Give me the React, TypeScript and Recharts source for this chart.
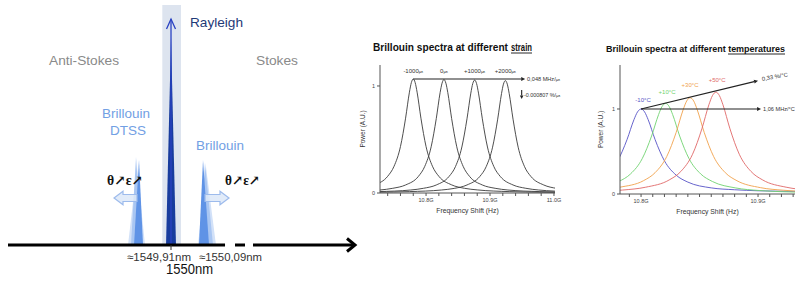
import React from 'react';
import {
  ComposedChart,
  LineChart,
  Line,
  Area,
  XAxis,
  YAxis,
  ReferenceLine,
  ReferenceDot,
  Label,
} from 'recharts';

const SANS = 'Liberation Sans, Arial, Helvetica, sans-serif';
const SERIF = 'Liberation Serif, DejaVu Serif, Times New Roman, serif';

// ---------------- Left panel: backscattered spectrum around 1550 nm ----------------
const wavelengthDomain = [1549.5416, 1550.5174];
const intensityDomain = [-38, 240];

const rayleighBandX = [1549.9755, 1550.0281];
const rayleighBandY = [240, 240];
const rayleighX = [1549.986, 1550.0, 1550.014];
const rayleighY = [0, 207, 0];
const antiStokesPaleX = [1549.8791, 1549.9044, 1549.9269];
const antiStokesPaleY = [0, 78, 0];
const antiStokesLightX = [1549.8875, 1549.9016, 1549.9184];
const antiStokesLightY = [0, 88, 0];
const antiStokesMainX = [1549.896, 1549.91, 1549.9213];
const antiStokesMainY = [0, 85, 0];
const stokesPaleX = [1550.0759, 1550.0984, 1550.1265];
const stokesPaleY = [0, 78, 0];
const stokesLightX = [1550.0815, 1550.0956, 1550.1181];
const stokesLightY = [0, 82, 0];
const stokesMainX = [1550.0787, 1550.09, 1550.1069];
const stokesMainY = [0, 85, 0];

const peakSeries = [
  { key: 'band', x: rayleighBandX, y: rayleighBandY, fill: '#dde4ef' },
  { key: 'asPale', x: antiStokesPaleX, y: antiStokesPaleY, fill: '#d2e1f8' },
  { key: 'sPale', x: stokesPaleX, y: stokesPaleY, fill: '#d2e1f8' },
  { key: 'asLight', x: antiStokesLightX, y: antiStokesLightY, fill: '#a9c6f2' },
  { key: 'sLight', x: stokesLightX, y: stokesLightY, fill: '#a9c6f2' },
  { key: 'asMain', x: antiStokesMainX, y: antiStokesMainY, fill: '#5f93e6' },
  { key: 'sMain', x: stokesMainX, y: stokesMainY, fill: '#5f93e6' },
  { key: 'rayleigh', x: rayleighX, y: rayleighY, fill: '#183c9e' },
];

const spectrumRows: any[] = [];
peakSeries.forEach((s) => s.x.forEach((x, i) => spectrumRows.push({ x, [s.key]: s.y[i] })));
spectrumRows.sort((a, b) => a.x - b.x);

// axis pieces (wavelength) drawn with gaps like the schematic
const axisSegA = [1549.5416, 1550.1519];
const axisSegB = [1550.18, 1550.2081];
const axisSegC = [1550.2306, 1550.5174];

// ---------------- Middle panel: strain ----------------
const strainDomain = [10.728, 11.0016];
const strainPowerDomain = [0, 1.196];
const strainTicks = [10.74, 10.76, 10.78, 10.8, 10.82, 10.84, 10.86, 10.88, 10.9, 10.92, 10.94, 10.96, 10.98, 11.0];
const strainTickLabels: Record<string, string> = { '10.8': '10.8G', '10.9': '10.9G', '11': '11.0G' };

const strainFreqM1000 = [10.7, 10.72, 10.74, 10.75, 10.76, 10.768, 10.774, 10.777, 10.78, 10.783, 10.786, 10.792, 10.8, 10.81, 10.82, 10.84, 10.86, 10.88, 10.93, 10.98, 11.03];
const strainPowM1000 = [0.044, 0.076, 0.156, 0.25, 0.434, 0.699, 0.942, 1.031, 1.065, 1.031, 0.942, 0.699, 0.434, 0.25, 0.156, 0.076, 0.044, 0.029, 0.013, 0.007, 0.005];
const strainFreq0 = [10.708, 10.728, 10.748, 10.768, 10.788, 10.798, 10.808, 10.816, 10.822, 10.825, 10.828, 10.831, 10.834, 10.84, 10.848, 10.858, 10.868, 10.888, 10.908, 10.928, 10.978, 11.028];
const strainPow0 = [0.02, 0.028, 0.044, 0.075, 0.155, 0.249, 0.432, 0.696, 0.938, 1.026, 1.06, 1.026, 0.938, 0.696, 0.432, 0.249, 0.155, 0.075, 0.044, 0.028, 0.013, 0.007];
const strainFreqP1000 = [10.676, 10.726, 10.776, 10.796, 10.816, 10.836, 10.846, 10.856, 10.864, 10.87, 10.873, 10.876, 10.879, 10.882, 10.888, 10.896, 10.906, 10.916, 10.936, 10.956, 10.976, 11.026];
const strainPowP1000 = [0.007, 0.013, 0.028, 0.044, 0.075, 0.155, 0.247, 0.43, 0.693, 0.933, 1.022, 1.055, 1.022, 0.933, 0.693, 0.43, 0.247, 0.155, 0.075, 0.044, 0.028, 0.013];
const strainFreqP2000 = [10.674, 10.724, 10.774, 10.824, 10.844, 10.864, 10.884, 10.894, 10.904, 10.912, 10.918, 10.921, 10.924, 10.927, 10.93, 10.936, 10.944, 10.954, 10.964, 10.984, 11.004, 11.024];
const strainPowP2000 = [0.005, 0.007, 0.013, 0.028, 0.043, 0.075, 0.154, 0.246, 0.428, 0.69, 0.929, 1.017, 1.05, 1.017, 0.929, 0.69, 0.428, 0.246, 0.154, 0.075, 0.043, 0.028];

const strainCurves = [
  { key: 'm1000', label: '-1000', peak: 10.78, f: strainFreqM1000, p: strainPowM1000 },
  { key: 'z0', label: '0', peak: 10.828, f: strainFreq0, p: strainPow0 },
  { key: 'p1000', label: '+1000', peak: 10.876, f: strainFreqP1000, p: strainPowP1000 },
  { key: 'p2000', label: '+2000', peak: 10.924, f: strainFreqP2000, p: strainPowP2000 },
];

// ---------------- Right panel: temperature ----------------
const tempDomain = [10.782, 10.9316];
const tempPowerDomain = [0, 1.5176];
const tempTicks = [10.79, 10.8, 10.81, 10.82, 10.83, 10.84, 10.85, 10.86, 10.87, 10.88, 10.89, 10.9, 10.91, 10.92, 10.93];
const tempTickLabels: Record<string, string> = { '10.8': '10.8G', '10.9': '10.9G' };

const tempFreqM10 = [10.77, 10.78, 10.788, 10.794, 10.797, 10.8, 10.803, 10.806, 10.812, 10.82, 10.83, 10.84, 10.86, 10.88, 10.9, 10.93, 10.95];
const tempPowM10 = [0.222, 0.39, 0.64, 0.877, 0.966, 1.0, 0.966, 0.877, 0.64, 0.39, 0.222, 0.14, 0.072, 0.05, 0.038, 0.031, 0.028];
const tempFreqP10 = [10.761, 10.781, 10.791, 10.801, 10.809, 10.815, 10.818, 10.821, 10.824, 10.827, 10.833, 10.841, 10.851, 10.861, 10.881, 10.901, 10.921, 10.951];
const tempPowP10 = [0.071, 0.147, 0.236, 0.416, 0.682, 0.935, 1.03, 1.066, 1.03, 0.935, 0.682, 0.416, 0.236, 0.147, 0.071, 0.041, 0.027, 0.016];
const tempFreqP30 = [10.762, 10.782, 10.802, 10.812, 10.822, 10.83, 10.836, 10.839, 10.842, 10.845, 10.848, 10.854, 10.862, 10.872, 10.882, 10.902, 10.922, 10.942];
const tempPowP30 = [0.044, 0.08, 0.156, 0.251, 0.442, 0.724, 0.992, 1.094, 1.132, 1.094, 0.992, 0.724, 0.442, 0.251, 0.156, 0.075, 0.044, 0.028];
const tempFreqP50 = [10.764, 10.784, 10.804, 10.824, 10.834, 10.844, 10.852, 10.858, 10.861, 10.864, 10.867, 10.87, 10.876, 10.884, 10.894, 10.904, 10.924, 10.944];
const tempPowP50 = [0.03, 0.046, 0.08, 0.165, 0.265, 0.467, 0.767, 1.05, 1.157, 1.198, 1.157, 1.05, 0.767, 0.467, 0.265, 0.165, 0.08, 0.046];

const tempCurves = [
  { key: 'm10', label: '-10°C', labelX: 10.8017, labelY: 1.082, color: '#5652c6', f: tempFreqM10, p: tempPowM10 },
  { key: 'p10', label: '+10°C', labelX: 10.8222, labelY: 1.176, color: '#6fd36f', f: tempFreqP10, p: tempPowP10 },
  { key: 'p30', label: '+30°C', labelX: 10.8419, labelY: 1.253, color: '#f0a24c', f: tempFreqP30, p: tempPowP30 },
  { key: 'p50', label: '+50°C', labelX: 10.865, labelY: 1.318, color: '#e06868', f: tempFreqP50, p: tempPowP50 },
];

const toPoints = (f: number[], p: number[]) => f.map((x, i) => ({ x, y: p[i] }));

// ---------------- helpers ----------------
type TextOpts = {
  size: number;
  fill: string;
  anchor?: 'start' | 'middle' | 'end';
  weight?: string | number;
  family?: string;
  length?: number;
  rotate?: number;
  baseline?: string;
};

function note(key: string, x: number, y: number, content: React.ReactNode, o: TextOpts) {
  return (
    <ReferenceDot
      key={key}
      x={x}
      y={y}
      r={0}
      ifOverflow="visible"
      shape={(p: any) => (
        <text
          x={p.cx}
          y={p.cy}
          fontSize={o.size}
          fill={o.fill}
          textAnchor={o.anchor ?? 'start'}
          fontWeight={o.weight ?? 'normal'}
          fontFamily={o.family ?? SANS}
          textLength={o.length}
          lengthAdjust={o.length ? 'spacingAndGlyphs' : undefined}
          dominantBaseline={o.baseline as any}
          transform={o.rotate ? `rotate(${o.rotate} ${p.cx} ${p.cy})` : undefined}
        >
          {content}
        </text>
      )}
    />
  );
}

const arrowShape =
  (color: string, width: number, head: number, half: number, open: boolean) => (p: any) => {
    const { x1, y1, x2, y2 } = p;
    const dx = x2 - x1;
    const dy = y2 - y1;
    const len = Math.hypot(dx, dy) || 1;
    const ux = dx / len;
    const uy = dy / len;
    const nx = -uy;
    const ny = ux;
    const bx = x2 - ux * head;
    const by = y2 - uy * head;
    const a = `${bx + nx * half},${by + ny * half}`;
    const b = `${x2},${y2}`;
    const c = `${bx - nx * half},${by - ny * half}`;
    if (open) {
      return (
        <g>
          <line x1={x1} y1={y1} x2={x2} y2={y2} stroke={color} strokeWidth={width} />
          <polyline points={`${a} ${b} ${c}`} fill="none" stroke={color} strokeWidth={width} strokeLinejoin="miter" />
        </g>
      );
    }
    return (
      <g>
        <line x1={x1} y1={y1} x2={bx} y2={by} stroke={color} strokeWidth={width} />
        <polygon points={`${a} ${b} ${c}`} fill={color} />
      </g>
    );
  };

const plainLine = (color: string, width: number) => (p: any) => (
  <line x1={p.x1} y1={p.y1} x2={p.x2} y2={p.y2} stroke={color} strokeWidth={width} />
);

const blockArrow = (p: any) => {
  const { x1, y1, x2 } = p;
  const dir = Math.sign(x2 - x1) || 1;
  const head = 9;
  const sh = 3.5;
  const hh = 6.8;
  const hx = x2 - dir * head;
  const pts = [
    [x1, y1 - sh],
    [hx, y1 - sh],
    [hx, y1 - hh],
    [x2, y1],
    [hx, y1 + hh],
    [hx, y1 + sh],
    [x1, y1 + sh],
  ]
    .map((q) => q.join(','))
    .join(' ');
  return <polygon points={pts} fill="#dce7f8" fillOpacity={0.85} stroke="#9dbbec" strokeWidth={1.2} />;
};

const fmtTick = (labels: Record<string, string>) => (v: number) => labels[String(+Number(v).toFixed(2))] ?? '';

// ---------------- App ----------------
export default function App() {
  const mu = (n: string) => (
    <>
      {n}
      <tspan fontSize={4.3}>{'με'}</tspan>
    </>
  );

  return (
    <div
      style={{
        position: 'absolute',
        left: 0,
        top: 0,
        width: 810,
        height: 283,
        background: '#ffffff',
        fontFamily: SANS,
        overflow: 'hidden',
      }}
    >
      {/* Left: spectrum schematic */}
      <div style={{ position: 'absolute', left: 0, top: 0 }}>
        <ComposedChart
          width={360}
          height={283}
          data={spectrumRows}
          margin={{ top: 5, right: 5, bottom: 0, left: 8 }}
        >
          <XAxis type="number" dataKey="x" domain={wavelengthDomain} allowDataOverflow hide />
          <YAxis type="number" domain={intensityDomain} allowDataOverflow hide />
          {peakSeries.map((s) => (
            <Area
              key={s.key}
              dataKey={s.key}
              type="linear"
              stroke="none"
              fill={s.fill}
              fillOpacity={1}
              connectNulls
              baseValue={0}
              dot={false}
              activeDot={false}
              isAnimationActive={false}
            />
          ))}
          <ReferenceLine
            segment={[{ x: 1550.0, y: 0 }, { x: 1550.0, y: 226 }]}
            ifOverflow="visible"
            shape={arrowShape('#2a42c2', 1.3, 10, 4.5, true)}
          />
          <ReferenceLine
            segment={[{ x: 1549.9044, y: 47 }, { x: 1549.8397, y: 47 }]}
            ifOverflow="visible"
            shape={blockArrow}
          />
          <ReferenceLine
            segment={[{ x: 1550.0956, y: 47 }, { x: 1550.1631, y: 47 }]}
            ifOverflow="visible"
            shape={blockArrow}
          />
          <ReferenceLine
            segment={[{ x: axisSegA[0], y: 0 }, { x: axisSegA[1], y: 0 }]}
            ifOverflow="visible"
            shape={plainLine('#000000', 3)}
          />
          <ReferenceLine
            segment={[{ x: axisSegB[0], y: 0 }, { x: axisSegB[1], y: 0 }]}
            ifOverflow="visible"
            shape={plainLine('#000000', 3)}
          />
          <ReferenceLine
            segment={[{ x: axisSegC[0], y: 0 }, { x: axisSegC[1], y: 0 }]}
            ifOverflow="visible"
            shape={arrowShape('#000000', 3, 8, 6.5, true)}
          />
          <ReferenceLine
            segment={[{ x: 1550.0, y: 0 }, { x: 1550.0, y: -5 }]}
            ifOverflow="visible"
            shape={plainLine('#333333', 1)}
          />
          {note('rayleigh', 1550.0534, 218, 'Rayleigh', { size: 13, fill: '#1f3a78', length: 53 })}
          {note('anti', 1549.6569, 180, 'Anti-Stokes', { size: 13, fill: '#8a8a8a', length: 70 })}
          {note('stokes', 1550.239, 180, 'Stokes', { size: 13, fill: '#8a8a8a', length: 42 })}
          {note('brL', 1549.806, 127, 'Brillouin', { size: 13, fill: '#72a0e4', length: 48 })}
          {note('dtss', 1549.8285, 110, 'DTSS', { size: 13, fill: '#72a0e4', length: 36 })}
          {note('brR', 1550.0703, 95, 'Brillouin', { size: 13, fill: '#72a0e4', length: 48 })}
          {note('teL', 1549.82, 60, 'θ↗ε↗', { size: 14, fill: '#111111', weight: 'bold', family: SERIF, length: 36 })}
          {note('teR', 1550.1519, 60, 'θ↗ε↗', { size: 14, fill: '#111111', weight: 'bold', family: SERIF, length: 35 })}
          {note('l91', 1549.8763, -16, '≈1549,91nm', { size: 11, fill: '#333333', length: 64 })}
          {note('l09', 1550.0787, -16, '≈1550,09nm', { size: 11, fill: '#333333', length: 63 })}
          {note('l1550', 1549.9859, -29, '1550nm', { size: 14, fill: '#111111', length: 47 })}
        </ComposedChart>
      </div>

      {/* Middle: strain */}
      <div style={{ position: 'absolute', left: 350, top: 30 }}>
        <LineChart width={230} height={200} margin={{ top: 35, right: 25, bottom: 7, left: 10 }}>
          <XAxis
            type="number"
            dataKey="x"
            domain={strainDomain}
            allowDataOverflow
            ticks={strainTicks}
            interval={0}
            tickFormatter={fmtTick(strainTickLabels)}
            height={30}
            tickSize={3}
            stroke="#555555"
            tick={{ fontSize: 5.5, fill: '#444444', fontFamily: SANS }}
          >
            <Label value="Frequency Shift (Hz)" position="insideBottom" offset={10} fontSize={6.8} fill="#333333" />
          </XAxis>
          <YAxis
            type="number"
            domain={strainPowerDomain}
            allowDataOverflow
            ticks={[0, 1]}
            interval={0}
            width={20}
            tickSize={3}
            stroke="#555555"
            tick={{ fontSize: 5.5, fill: '#444444', fontFamily: SANS }}
          >
            <Label
              value="Power (A.U.)"
              angle={-90}
              position="insideLeft"
              offset={3}
              fontSize={6.5}
              fill="#333333"
              style={{ textAnchor: 'middle' }}
            />
          </YAxis>
          {strainCurves.map((c) => (
            <Line
              key={c.key}
              data={toPoints(c.f, c.p)}
              dataKey="y"
              type="monotone"
              stroke="#3a3a3a"
              strokeWidth={0.9}
              dot={false}
              activeDot={false}
              isAnimationActive={false}
            />
          ))}
          <ReferenceLine
            segment={[{ x: 10.78, y: 1.065 }, { x: 10.955, y: 1.065 }]}
            ifOverflow="visible"
            shape={arrowShape('#222222', 1.1, 4, 2, false)}
          />
          <ReferenceLine
            segment={[{ x: 10.9495, y: 0.963 }, { x: 10.9495, y: 0.879 }]}
            ifOverflow="visible"
            shape={arrowShape('#222222', 1.1, 3.5, 1.8, false)}
          />
          {strainCurves.map((c) =>
            note('lab' + c.key, c.peak, 1.117, mu(c.label), { size: 6, fill: '#333333', anchor: 'middle' })
          )}
          {note('rate1', 10.958, 1.065, mu('0,048 MHz/'), { size: 5.6, fill: '#333333', baseline: 'central' })}
          {note('rate2', 10.9531, 0.916, mu('-0.000807 %/'), { size: 5.4, fill: '#333333', baseline: 'central' })}
        </LineChart>
      </div>

      {/* Right: temperature */}
      <div style={{ position: 'absolute', left: 590, top: 30 }}>
        <LineChart width={220} height={200} margin={{ top: 35, right: 15, bottom: 6, left: 10 }}>
          <XAxis
            type="number"
            dataKey="x"
            domain={tempDomain}
            allowDataOverflow
            ticks={tempTicks}
            interval={0}
            tickFormatter={fmtTick(tempTickLabels)}
            height={30}
            tickSize={3}
            stroke="#555555"
            tick={{ fontSize: 5.5, fill: '#444444', fontFamily: SANS }}
          >
            <Label value="Frequency Shift (Hz)" position="insideBottom" offset={10} fontSize={6.8} fill="#333333" />
          </XAxis>
          <YAxis
            type="number"
            domain={tempPowerDomain}
            allowDataOverflow
            ticks={[0, 1]}
            interval={0}
            width={20}
            tickSize={3}
            stroke="#555555"
            tick={{ fontSize: 5.5, fill: '#444444', fontFamily: SANS }}
          >
            <Label
              value="Power (A.U.)"
              angle={-90}
              position="insideLeft"
              offset={1}
              fontSize={6.5}
              fill="#333333"
              style={{ textAnchor: 'middle' }}
            />
          </YAxis>
          {tempCurves.map((c) => (
            <Line
              key={c.key}
              data={toPoints(c.f, c.p)}
              dataKey="y"
              type="monotone"
              stroke={c.color}
              strokeWidth={0.9}
              dot={false}
              activeDot={false}
              isAnimationActive={false}
            />
          ))}
          <ReferenceLine
            segment={[{ x: 10.8, y: 1.0 }, { x: 10.9, y: 1.333 }]}
            ifOverflow="visible"
            shape={arrowShape('#222222', 1.1, 4, 2, false)}
          />
          <ReferenceLine
            segment={[{ x: 10.8, y: 1.0 }, { x: 10.9026, y: 1.0 }]}
            ifOverflow="visible"
            shape={arrowShape('#222222', 1.1, 4, 2, false)}
          />
          {tempCurves.map((c) =>
            note('t' + c.key, c.labelX, c.labelY, c.label, { size: 6, fill: c.color, anchor: 'middle' })
          )}
          {note('trate1', 10.9034, 1.353, '0,33 %/°C', { size: 5.8, fill: '#333333', baseline: 'central', rotate: -10 })}
          {note('trate2', 10.9043, 1.0, '1,06 MHz/°C', { size: 5.6, fill: '#333333', baseline: 'central' })}
        </LineChart>
      </div>

      {/* Panel titles */}
      <svg
        width={810}
        height={283}
        style={{ position: 'absolute', left: 0, top: 0, pointerEvents: 'none' }}
      >
        <text x={373} y={51} fontSize={10.5} fontWeight="bold" fill="#111111" fontFamily={SANS}
          textLength={135} lengthAdjust="spacingAndGlyphs">
          Brillouin spectra at different
        </text>
        <text x={511} y={51} fontSize={10.5} fontWeight="bold" fill="#111111" fontFamily={SANS}
          textLength={21} lengthAdjust="spacingAndGlyphs">
          strain
        </text>
        <line x1={511} y1={53} x2={532} y2={53} stroke="#111111" strokeWidth={0.9} />
        <text x={606} y={52} fontSize={9.8} fontWeight="bold" fill="#111111" fontFamily={SANS}
          textLength={179} lengthAdjust="spacingAndGlyphs">
          Brillouin spectra at different temperatures
        </text>
        <line x1={728} y1={54} x2={785} y2={54} stroke="#111111" strokeWidth={0.9} />
      </svg>
    </div>
  );
}
